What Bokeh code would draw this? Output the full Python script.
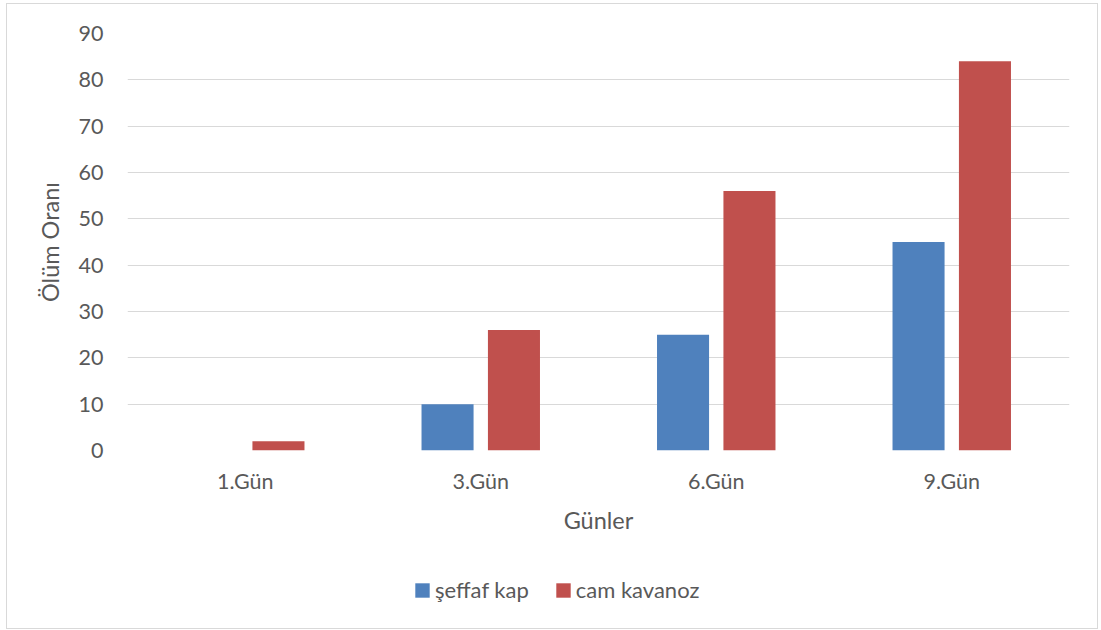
from bokeh.plotting import figure
from bokeh.layouts import column
from bokeh.models import ColumnDataSource, FactorRange, Range1d, Legend, LegendItem
from bokeh.transform import dodge
from bokeh.embed import file_html
from bokeh.resources import INLINE

# Mortality rate by day for the two container types
days = ["1.Gün", "3.Gün", "6.Gün", "9.Gün"]
seffaf_kap = [0, 10, 25, 45]
cam_kavanoz = [2, 26, 56, 84]
y_ticks = [0, 10, 20, 30, 40, 50, 60, 70, 80, 90]

series_names = ["şeffaf kap", "cam kavanoz"]
series_colors = ["#4F81BD", "#C0504D"]

FONT = "Lato"
TEXT = "#595959"
GRID = "#D9D9D9"
W = 1090

src = ColumnDataSource(dict(day=days, seffaf=seffaf_kap, cam=cam_kavanoz))

# --- main bar chart ---
p = figure(
    x_range=FactorRange(*days),
    y_range=Range1d(0, 90),
    width=W, height=560,
    output_backend="svg",
    toolbar_location=None,
    min_border_left=120, min_border_right=28,
    min_border_top=29, min_border_bottom=114,
    outline_line_color=None,
)

p.vbar(x=dodge("day", -0.141, range=p.x_range), top="seffaf", width=0.221,
       source=src, fill_color=series_colors[0], line_color=None)
p.vbar(x=dodge("day", 0.141, range=p.x_range), top="cam", width=0.221,
       source=src, fill_color=series_colors[1], line_color=None)

p.xgrid.grid_line_color = None
p.ygrid.grid_line_color = GRID
p.ygrid.grid_line_width = 1

p.yaxis.ticker = y_ticks
for ax in (p.xaxis[0], p.yaxis[0]):
    ax.axis_line_color = None
    ax.major_tick_line_color = None
    ax.minor_tick_line_color = None
    ax.major_label_text_font = FONT
    ax.major_label_text_font_size = "21.5px"
    ax.major_label_text_color = TEXT
    ax.axis_label_text_font = FONT
    ax.axis_label_text_font_size = "23.5px"
    ax.axis_label_text_font_style = "normal"
    ax.axis_label_text_color = TEXT

p.yaxis.axis_label = "Ölüm Oranı"
p.yaxis.major_label_standoff = 18
p.yaxis.axis_label_standoff = 12
p.xaxis.axis_label = "Günler"
p.xaxis.major_label_standoff = 11
p.xaxis.axis_label_standoff = 9

# --- legend strip under the chart ---
# its y range sits far above the data, so the key bars themselves fall off-canvas
lg = figure(
    x_range=p.x_range, y_range=Range1d(1000, 1001),
    width=W, height=64,
    output_backend="svg",
    toolbar_location=None,
    min_border=0, outline_line_color=None,
)
lg.axis.visible = False
lg.grid.visible = False

k1 = lg.vbar(x=dodge("day", -0.141, range=lg.x_range), bottom="seffaf", top="seffaf",
             width=0.221, source=src, fill_color=series_colors[0], line_color=None)
k2 = lg.vbar(x=dodge("day", 0.141, range=lg.x_range), bottom="cam", top="cam",
             width=0.221, source=src, fill_color=series_colors[1], line_color=None)

legend = Legend(
    items=[LegendItem(label=series_names[0], renderers=[k1]),
           LegendItem(label=series_names[1], renderers=[k2])],
    location=(286, 25),
    orientation="horizontal",
    glyph_width=18, glyph_height=18, label_height=18,
    label_standoff=4, spacing=25, padding=0, margin=0,
    border_line_color=None, background_fill_alpha=0,
    label_text_font=FONT, label_text_font_size="22px", label_text_color=TEXT,
)
lg.add_layout(legend)

layout = column(p, lg, spacing=0)
layout.styles = {"margin-left": "7px", "margin-top": "4px", "outline": "1px solid #D9D9D9"}

with open("out.html", "w") as f:
    f.write(file_html(layout, INLINE))
